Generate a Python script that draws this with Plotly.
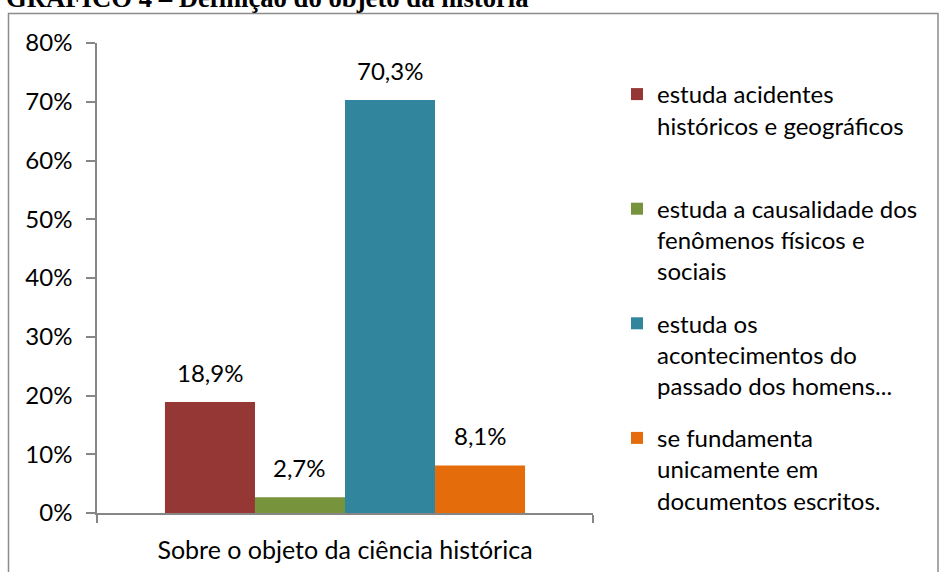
import plotly.graph_objects as go

# -------------------------------------------------------------------
# Dados
# -------------------------------------------------------------------
category = ["Sobre o objeto da ciência histórica"]

series_names = [
    "estuda acidentes<br>históricos e geográficos<br> ",
    "estuda a causalidade dos<br>fenômenos físicos e<br>sociais",
    "estuda os<br>acontecimentos do<br>passado dos homens...",
    "se fundamenta<br>unicamente em<br>documentos escritos.",
]
series_values = [0.189, 0.027, 0.703, 0.081]
series_colors = ["#953735", "#77933C", "#31859C", "#E46C0A"]

y_tick_values = [0, 0.1, 0.2, 0.3, 0.4, 0.5, 0.6, 0.7, 0.8]
y_tick_labels = ["0%", "10%", "20%", "30%", "40%", "50%", "60%", "70%", "80%"]

title_text = "GRÁFICO 4 – Definição do objeto da história"

# -------------------------------------------------------------------
# Geometria da área do gráfico (pixels)
# -------------------------------------------------------------------
W, H = 939, 572
PL, PR, PT, PB = 97, 593, 43, 513
BARGAP = 0.274
FONT = "Lato"
AXIS_GRAY = "#868686"


def px_to_paper_x(px):
    return (px - PL) / (PR - PL)


def px_to_paper_y(py):
    return (PB - py) / (PB - PT)


fig = go.Figure()

for name, value, color in zip(series_names, series_values, series_colors):
    fig.add_trace(
        go.Bar(
            x=category,
            y=[value],
            name=name,
            legendgroup=name,
            marker=dict(color=color, line=dict(width=0)),
            hoverinfo="skip",
        )
    )

# rótulos dos valores acima de cada barra
bar_w = (1 - BARGAP) / len(series_values)
for i, value in enumerate(series_values):
    x_center = -0.5 + BARGAP / 2 + bar_w * (i + 0.5)
    fig.add_annotation(
        x=x_center,
        y=value,
        xref="x",
        yref="y",
        text=f"{value * 100:.1f}%".replace(".", ","),
        showarrow=False,
        yanchor="bottom",
        yshift=13,
        font=dict(family=FONT, size=24, color="#000000"),
    )

# título (cortado no topo, como no original)
fig.add_annotation(
    x=px_to_paper_x(4),
    y=px_to_paper_y(-2),
    xref="paper",
    yref="paper",
    text=f"<b>{title_text}</b>",
    showarrow=False,
    xanchor="left",
    yanchor="middle",
    font=dict(family="Liberation Serif", size=26.7, color="#000000"),
)

# moldura do gráfico
fig.add_shape(
    type="rect",
    xref="paper",
    yref="paper",
    x0=px_to_paper_x(8.5),
    x1=px_to_paper_x(938),
    y0=px_to_paper_y(H + 10),
    y1=px_to_paper_y(13.5),
    line=dict(color="#8C8C8C", width=1.5),
    fillcolor="rgba(0,0,0,0)",
    layer="below",
)

fig.update_layout(
    width=W,
    height=H,
    margin=dict(l=PL, r=W - PR, t=PT, b=H - PB, pad=0, autoexpand=False),
    paper_bgcolor="#FFFFFF",
    plot_bgcolor="#FFFFFF",
    barmode="group",
    bargap=BARGAP,
    bargroupgap=0,
    showlegend=True,
    legend=dict(
        x=px_to_paper_x(617),
        y=px_to_paper_y(72),
        xanchor="left",
        yanchor="top",
        valign="top",
        traceorder="grouped",
        tracegroupgap=18,
        font=dict(family=FONT, size=24, color="#000000"),
        bgcolor="rgba(0,0,0,0)",
    ),
    font=dict(family=FONT, size=24, color="#000000"),
)

fig.update_xaxes(
    type="category",
    automargin=False,
    showline=True,
    linecolor=AXIS_GRAY,
    linewidth=1.5,
    ticks="outside",
    tickson="boundaries",
    ticklen=8,
    tickwidth=1.5,
    tickcolor=AXIS_GRAY,
    showgrid=False,
    tickfont=dict(family=FONT, size=25, color="#000000"),
    ticklabelstandoff=14,
)

fig.update_yaxes(
    range=[0, 0.8],
    automargin=False,
    tickvals=y_tick_values,
    ticktext=y_tick_labels,
    showline=True,
    linecolor=AXIS_GRAY,
    linewidth=1.5,
    ticks="outside",
    ticklen=9,
    tickwidth=1.5,
    tickcolor=AXIS_GRAY,
    showgrid=False,
    zeroline=False,
    tickfont=dict(family=FONT, size=24, color="#000000"),
    ticklabelstandoff=9,
)

# a página padrão tem margem de 8px no body; removida para alinhar ao original
fig.write_html(
    "out.html",
    config={"displayModeBar": False},
    post_script="document.body.style.margin='0px';",
)
